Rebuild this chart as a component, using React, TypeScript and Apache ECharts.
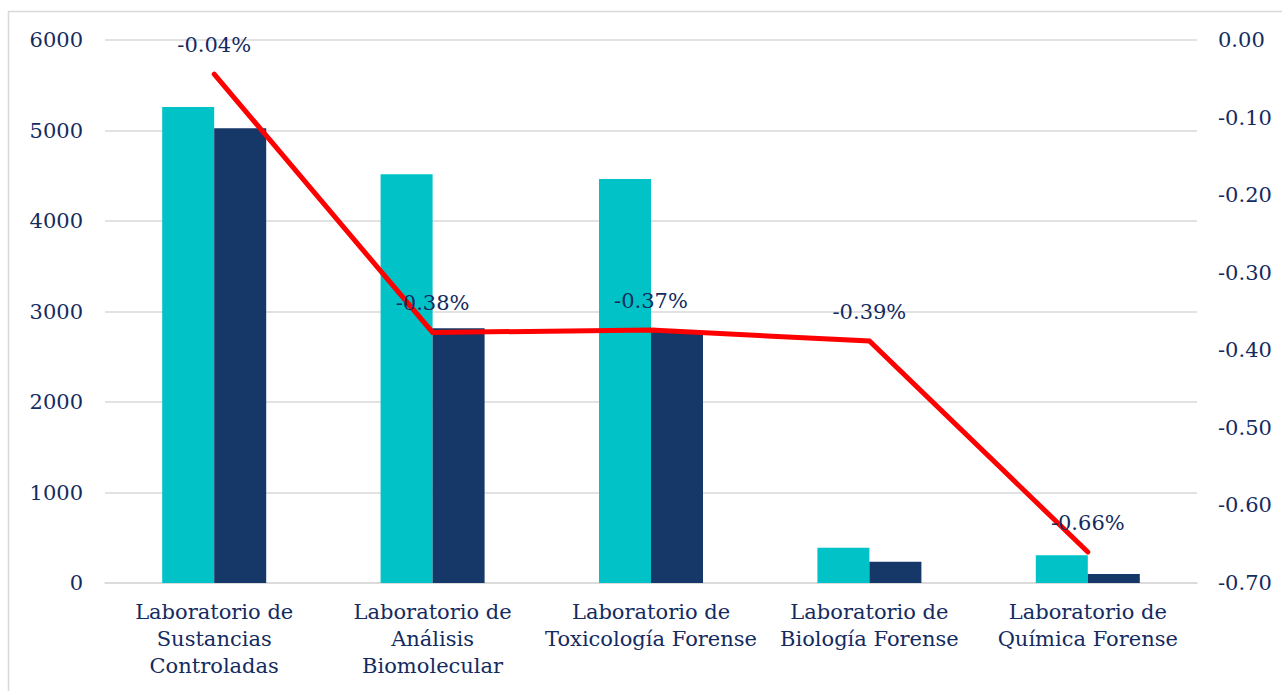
import React, { useEffect, useRef } from "react";
import * as echarts from "echarts";

const categories = [
  "Laboratorio de\nSustancias\nControladas",
  "Laboratorio de\nAnálisis\nBiomolecular",
  "Laboratorio de\nToxicología Forense",
  "Laboratorio de\nBiología Forense",
  "Laboratorio de\nQuímica Forense",
];
const seriesPrev = [5260, 4516, 4464, 390, 306];
const seriesCurr = [5024, 2814, 2785, 235, 99];
const variation = [-0.044, -0.377, -0.374, -0.388, -0.66];
const leftTicks = { min: 0, max: 6000, interval: 1000 };
const rightTicks = { min: -0.7, max: 0, interval: 0.1 };

const FONT = 'Georgia, "DejaVu Serif", serif';
const TEXT = "#142B5F";

export default function App() {
  const ref = useRef<HTMLDivElement>(null);
  useEffect(() => {
    if (!ref.current) return;
    const chart = echarts.init(ref.current, null, { renderer: "svg" });
    chart.setOption({
      animation: false,
      textStyle: { fontFamily: FONT, color: TEXT },
      graphic: [
        {
          type: "rect",
          shape: { x: 8.5, y: 11.5, width: 1300, height: 700 },
          style: { fill: "none", stroke: "#d9d9d9", lineWidth: 1.5 },
          silent: true,
        },
      ],
      grid: { left: 105, right: 85, top: 40, bottom: 108 },
      xAxis: {
        type: "category",
        data: categories,
        axisLine: { lineStyle: { color: "#d9d9d9", width: 1.5 } },
        axisTick: { show: false },
        axisLabel: {
          interval: 0,
          fontFamily: FONT,
          fontSize: 21,
          lineHeight: 27,
          color: TEXT,
          margin: 15,
        },
      },
      yAxis: [
        {
          type: "value",
          min: leftTicks.min,
          max: leftTicks.max,
          interval: leftTicks.interval,
          axisLine: { show: false },
          axisTick: { show: false },
          splitLine: { lineStyle: { color: "#d9d9d9", width: 1.5 } },
          axisLabel: {
            fontFamily: FONT,
            fontSize: 21,
            color: TEXT,
            margin: 22,
            formatter: (v: number) => String(v),
          },
        },
        {
          type: "value",
          min: rightTicks.min,
          max: rightTicks.max,
          interval: rightTicks.interval,
          axisLine: { show: false },
          axisTick: { show: false },
          splitLine: { show: false },
          axisLabel: {
            fontFamily: FONT,
            fontSize: 21,
            color: TEXT,
            margin: 21,
            formatter: (v: number) => v.toFixed(2),
          },
        },
      ],
      series: [
        {
          name: "Anterior",
          type: "bar",
          data: seriesPrev,
          barWidth: 52,
          barGap: "0%",
          itemStyle: { color: "#00C2C7" },
        },
        {
          name: "Actual",
          type: "bar",
          data: seriesCurr,
          barWidth: 52,
          itemStyle: { color: "#163868" },
        },
        {
          name: "Variación",
          type: "line",
          yAxisIndex: 1,
          data: variation,
          symbol: "circle",
          symbolSize: 1,
          showSymbol: true,
          itemStyle: { color: "#FF0000" },
          z: 5,
          lineStyle: { color: "#FF0000", width: 5, cap: "round", join: "miter" },
          label: {
            show: true,
            position: "top",
            distance: 18,
            fontFamily: FONT,
            fontSize: 21,
            color: TEXT,
            formatter: (p: any) => Number(p.value).toFixed(2) + "%",
          },
        },
      ],
    });
    return () => chart.dispose();
  }, []);
  return (
    <div
      ref={ref}
      style={{ position: "fixed", left: 0, top: 0, width: 1282, height: 691, background: "#fff" }}
    />
  );
}
